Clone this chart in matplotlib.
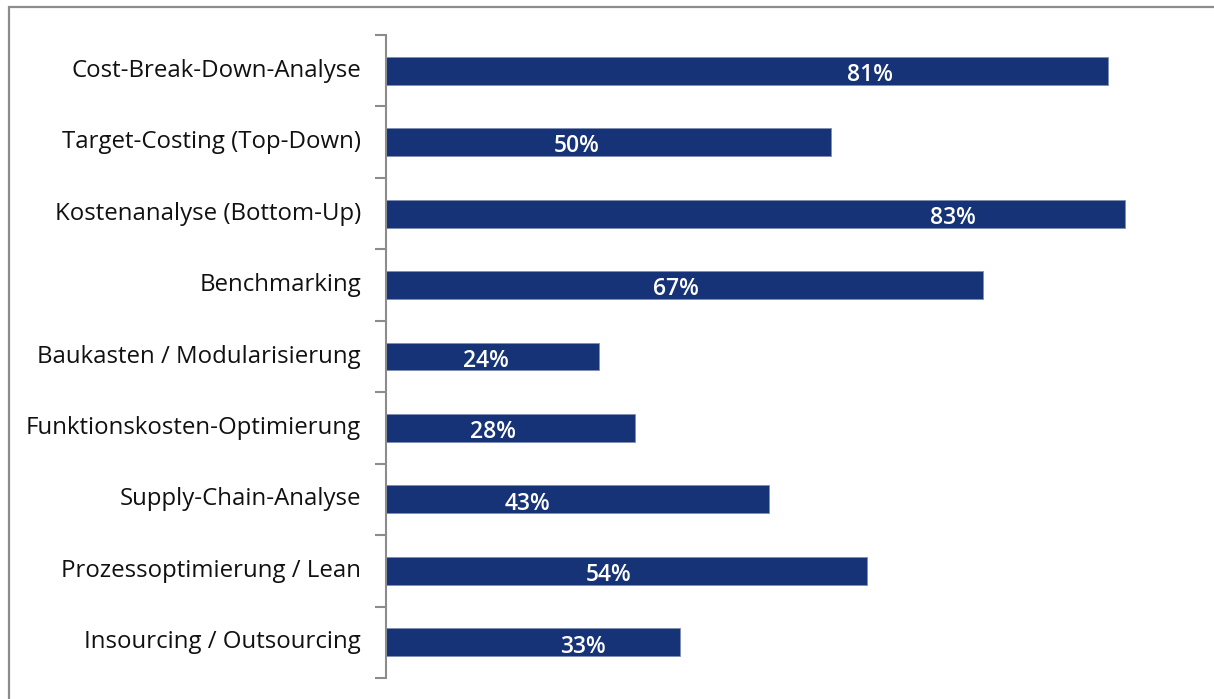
import matplotlib

matplotlib.use("Agg")
import matplotlib.pyplot as plt
from matplotlib.patches import Rectangle

categories = [
    "Cost-Break-Down-Analyse",
    "Target-Costing (Top-Down)",
    "Kostenanalyse (Bottom-Up)",
    "Benchmarking",
    "Baukasten / Modularisierung",
    "Funktionskosten-Optimierung",
    "Supply-Chain-Analyse",
    "Prozessoptimierung / Lean",
    "Insourcing / Outsourcing",
]
values = [81, 50, 83, 67, 24, 28, 43, 54, 33]

# where the value labels sit inside each bar (same units as the x axis)
label_x = [54.4, 21.5, 63.7, 32.6, 11.3, 12.1, 15.9, 25.0, 22.1]

BAR_COLOR = "#163378"
AXIS_GRAY = "#8c8c8c"

plt.rcParams["font.family"] = ["Open Sans", "DejaVu Sans"]

W, H = 1214, 699
fig = plt.figure(figsize=(W / 100, H / 100), dpi=100)

# frame of the picture: only its top and left edges fall inside the image
fig.patches.append(
    Rectangle((8.5 / W, -0.05), 1.1, 1.05 - 6.5 / H,
              transform=fig.transFigure, fill=False, edgecolor=AXIS_GRAY, linewidth=1.6)
)

ax = fig.add_axes([385.5 / W, 1 - 678 / H, (1205 - 385.5) / W, (678 - 35) / H])

n = len(categories)
ypos = list(range(n))
ax.barh(ypos, values, height=0.39, color=BAR_COLOR, edgecolor="#7f8fb5", linewidth=0.6)
ax.set_ylim(n - 0.5, -0.5)
ax.set_xlim(0, (1205 - 385.5) / 8.914)

for y, v, lx in zip(ypos, values, label_x):
    ax.text(lx, y + 0.06, f"{v}%", color="white", fontsize=16.5, fontweight="semibold",
            ha="center", va="center")

# category names as text next to the axis, ticks between categories
ax.set_yticks([y + 0.5 for y in range(-1, n)])
ax.set_yticklabels([])
ax.tick_params(axis="y", length=8, width=1.5, color=AXIS_GRAY)
for y, name in zip(ypos, categories):
    ax.text(-0.03, y, name, transform=ax.get_yaxis_transform(), ha="right", va="center",
            fontsize=17.3, color="#111111")

ax.set_xticks([])
for side in ("top", "right", "bottom"):
    ax.spines[side].set_visible(False)
ax.spines["left"].set_color(AXIS_GRAY)
ax.spines["left"].set_linewidth(1.5)

fig.savefig("out.png", dpi=100)
